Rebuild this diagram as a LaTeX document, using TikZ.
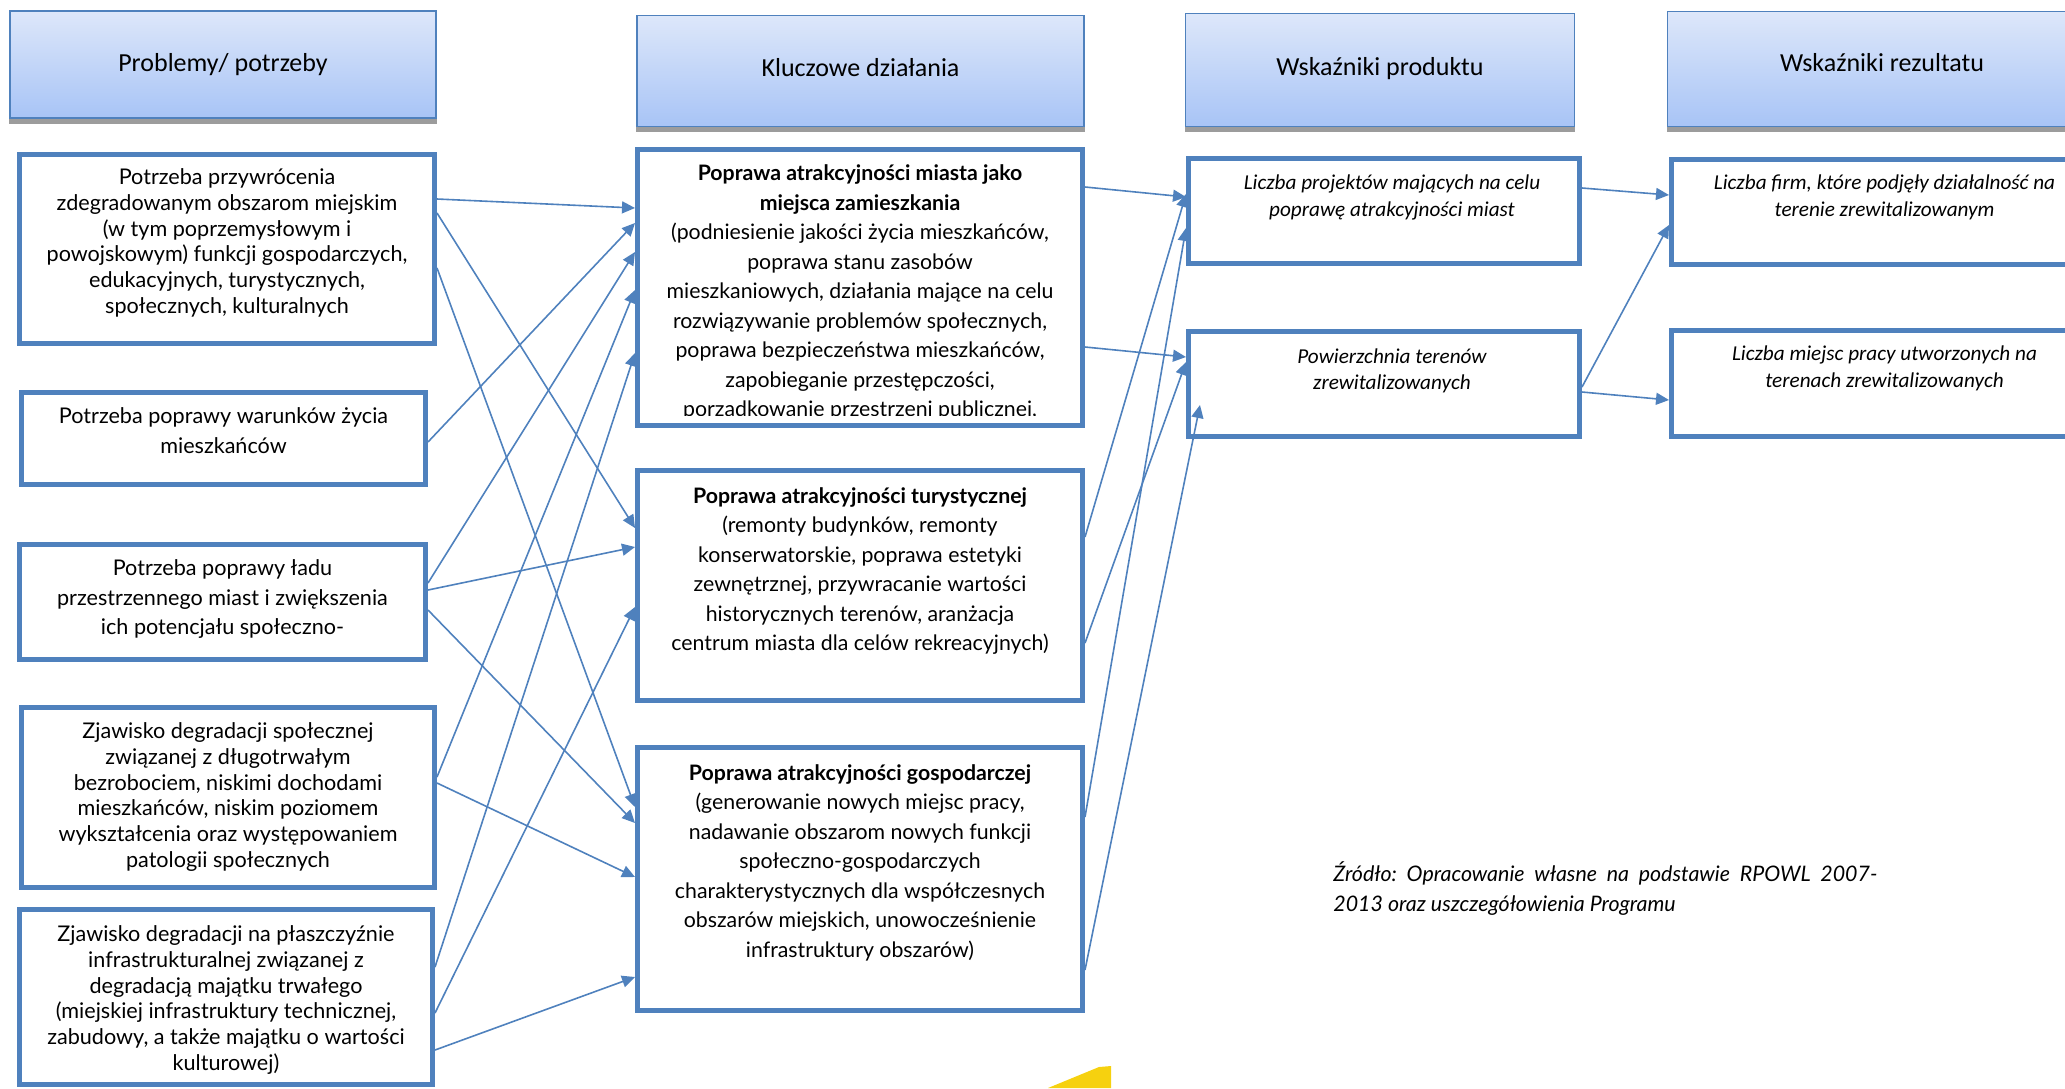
\documentclass[tikz,border=0pt]{standalone}
\usepackage{fontspec}
\setmainfont{Lato}
\newfontfamily\calib{Carlito}
\usetikzlibrary{calc,arrows.meta}
\definecolor{bord}{HTML}{4F81BD}
\definecolor{htop}{HTML}{DDE7FA}
\definecolor{hbot}{HTML}{A8C4F6}
\definecolor{shad}{HTML}{9C9C9C}
\definecolor{yel}{HTML}{F6D10F}
\begin{document}
\frenchspacing
\begin{tikzpicture}[x=0.5pt,y=-0.5pt,
  box/.style={draw=bord,line width=2.5pt,fill=white,inner sep=0pt},
  hdr/.style={draw=bord,line width=0.75pt,top color=htop,bottom color=hbot,inner sep=0pt},
  htxt/.style={inner sep=0pt,font=\calib\fontsize{13}{15}\selectfont},
  ltxt/.style={anchor=north,align=center,inner sep=0pt,font=\fontsize{10.8}{12.85}\selectfont},
  wtxt/.style={anchor=north,align=center,inner sep=0pt,font=\fontsize{10.65}{14.75}\selectfont},
  vtxt/.style={anchor=north,align=center,inner sep=0pt,font=\fontsize{10.8}{14.75}\selectfont},
  itxt/.style={anchor=north,align=center,inner sep=0pt,font=\calib\itshape\fontsize{10.6}{13.2}\selectfont},
  arr/.style={draw=bord,line width=0.8pt,-{Triangle[length=6.5pt,width=6pt]}},
  shd/.style={fill=shad}
]
\useasboundingbox (0,0) rectangle (2065,1088);
\clip (0,0) rectangle (2065,1088);

% headers
\node[hdr,minimum width=213pt,minimum height=53.5pt] (H1) at (223,64.5) {};
\node[hdr,minimum width=223.3pt,minimum height=55.3pt] (H2) at (860.5,71) {};
\node[hdr,minimum width=194.3pt,minimum height=56.3pt] (H3) at (1380,70) {};
\node[hdr,minimum width=214.3pt,minimum height=57.3pt] (H4) at (1882,69) {};
\foreach \h in {H1,H2,H3,H4}{
  \fill[shd] (\h.south west) rectangle ($(\h.south east)+(0,5)$);
}
\node[htxt] (tH1) at ($(H1.center)+(0,0)$) {Problemy/ potrzeby};
\node[htxt] (tH2) at ($(H2.center)+(0,-3)$) {Kluczowe działania};
\node[htxt] (tH3) at ($(H3.center)+(0,-1.5)$) {Wskaźniki produktu};
\node[htxt] (tH4) at ($(H4.center)+(0,-6)$) {Wskaźniki rezultatu};

% left column
\node[box,minimum width=207.5pt,minimum height=94.5pt] (L1) at (227,249) {};
\node[box,minimum width=202pt,minimum height=46pt] (L2) at (223.5,438.5) {};
\node[box,minimum width=203pt,minimum height=57.5pt] (L3) at (222.5,602) {};
\node[box,minimum width=206.5pt,minimum height=90pt] (L4) at (228,797.5) {};
\node[box,minimum width=206.5pt,minimum height=87.5pt] (L5) at (226,997) {};

\node[ltxt] (tL1) at ($(L1.north)+(0,16.5)$) {Potrzeba przywrócenia\\zdegradowanym obszarom miejskim\\(w tym poprzemysłowym i\\powojskowym) funkcji gospodarczych,\\edukacyjnych, turystycznych,\\społecznych, kulturalnych};
\node[vtxt] (tL2) at ($(L2.north)+(0,17.5)$) {Potrzeba poprawy warunków życia\\mieszkańców};
\node[vtxt] (tL3) at ($(L3.north)+(0,17.5)$) {Potrzeba poprawy ładu\\przestrzennego miast i zwiększenia\\ich potencjału społeczno-};
\node[ltxt] (tL4) at ($(L4.north)+(0,17.5)$) {Zjawisko degradacji społecznej\\związanej z długotrwałym\\bezrobociem, niskimi dochodami\\mieszkańców, niskim poziomem\\wykształcenia oraz występowaniem\\patologii społecznych};
\node[ltxt] (tL5) at ($(L5.north)+(0,18.5)$) {Zjawisko degradacji na płaszczyźnie\\infrastrukturalnej związanej z\\degradacją majątku trwałego\\(miejskiej infrastruktury technicznej,\\zabudowy, a także majątku o wartości\\kulturowej)};

% middle column
\node[box,minimum width=222.5pt,minimum height=138pt] (M1) at (860,287.5) {};
\node[box,minimum width=222.5pt,minimum height=115pt] (M2) at (860,585.5) {};
\node[box,minimum width=222.5pt,minimum height=131.5pt] (M3) at (860,879) {};

\begin{scope}
\clip ($(M1.north west)+(6,6)$) rectangle ($(M1.south east)+(-6,-13)$);
\node[wtxt] (tM1) at ($(M1.north)+(0,17.5)$) {\textbf{Poprawa atrakcyjności miasta jako}\\\textbf{miejsca zamieszkania}\\(podniesienie jakości życia mieszkańców,\\poprawa stanu zasobów\\mieszkaniowych, działania mające na celu\\rozwiązywanie problemów społecznych,\\poprawa bezpieczeństwa mieszkańców,\\zapobieganie przestępczości,\\porządkowanie przestrzeni publicznej,};
\end{scope}
\node[wtxt] (tM2) at ($(M2.north)+(0,19)$) {\textbf{Poprawa atrakcyjności turystycznej}\\(remonty budynków, remonty\\konserwatorskie, poprawa estetyki\\zewnętrznej, przywracanie wartości\\historycznych terenów, aranżacja\\centrum miasta dla celów rekreacyjnych)};
\node[wtxt] (tM3) at ($(M3.north)+(0,19)$) {\textbf{Poprawa atrakcyjności gospodarczej}\\(generowanie nowych miejsc pracy,\\nadawanie obszarom nowych funkcji\\społeczno-gospodarczych\\charakterystycznych dla współczesnych\\obszarów miejskich, unowocześnienie\\infrastruktury obszarów)};

% product and result columns
\node[box,minimum width=195.5pt,minimum height=52.5pt] (P1) at (1384,211) {};
\node[box,minimum width=195.5pt,minimum height=52.5pt] (P2) at (1384,384) {};
\node[box,minimum width=213pt,minimum height=52.5pt] (R1) at (1884.5,212) {};
\node[box,minimum width=213pt,minimum height=53pt] (R2) at (1884.5,383.5) {};
\node[itxt] (tP1) at ($(P1.north)+(8,18.5)$) {Liczba projektów mających na celu\\poprawę atrakcyjności miast};
\node[itxt] (tP2) at ($(P2.north)+(8,19)$) {Powierzchnia terenów\\zrewitalizowanych};
\node[itxt] (tR1) at ($(R1.north)+(0,17.5)$) {Liczba firm, które podjęły działalność na\\terenie zrewitalizowanym};
\node[itxt] (tR2) at ($(R2.north)+(0,17.5)$) {Liczba miejsc pracy utworzonych na\\terenach zrewitalizowanych};

% source note
\node[anchor=north west,inner sep=0pt,text width=272pt,align=justify,
  font=\itshape\fontsize{10.7}{15}\selectfont] (src) at (1333,861)
  {Źródło: Opracowanie własne na podstawie RPOWL 2007-\linebreak 2013 oraz uszczegółowienia Programu};

% yellow fragment
\fill[yel] (1048,1088) -- (1099,1067) -- (1111,1066) -- (1111,1088) -- cycle;

% arrows: problems -> actions
\draw[arr] ($(L1.north east)+(0,47)$)  -- ($(M1.north west)+(0,61)$);
\draw[arr] ($(L1.north east)+(0,61)$)  -- ($(M2.north west)+(0,60)$);
\draw[arr] ($(L1.north east)+(0,116)$) -- ($(M3.north west)+(0,62)$);
\draw[arr] ($(L2.north east)+(0,52)$)  -- ($(M1.north west)+(0,76)$);
\draw[arr] ($(L3.north east)+(0,41)$)  -- ($(M1.north west)+(0,105)$);
\draw[arr] ($(L3.north east)+(0,48)$)  -- ($(M2.north west)+(0,79)$);
\draw[arr] ($(L3.north east)+(0,68)$)  -- ($(M3.north west)+(0,78)$);
\draw[arr] ($(L4.north east)+(0,72)$)  -- ($(M1.north west)+(0,143)$);
\draw[arr] ($(L4.north east)+(0,78)$)  -- ($(M3.north west)+(0,132)$);
\draw[arr] ($(L5.north east)+(0,60)$)  -- ($(M1.north west)+(0,206)$);
\draw[arr] ($(L5.north east)+(0,106)$) -- ($(M2.north west)+(0,139)$);
\draw[arr] ($(L5.north east)+(0,143)$) -- ($(M3.north west)+(0,232)$);

% arrows: actions -> product indicators
\draw[arr] ($(M1.north east)+(0,40)$)  -- ($(P1.north west)+(0,41)$);
\draw[arr] ($(M1.north east)+(0,200)$) -- ($(P2.north west)+(0,28)$);
\draw[arr] ($(M2.north east)+(0,69)$)  -- ($(P1.north west)+(0,38)$);
\draw[arr] ($(M2.north east)+(0,175)$) -- ($(P2.north west)+(0,33)$);
\draw[arr] ($(M3.north east)+(0,72)$)  -- ($(P1.north west)+(0,72)$);
\draw[arr] ($(M3.north east)+(0,225)$) -- ($(P2.north west)+(14,76)$);

% arrows: product -> result indicators
\draw[arr] ($(P1.north east)+(0,32)$) -- ($(R1.north west)+(0,38)$);
\draw[arr] ($(P2.north east)+(0,58)$) -- ($(R1.north west)+(0,68)$);
\draw[arr] ($(P2.north east)+(0,63)$) -- ($(R2.north west)+(0,72)$);
\end{tikzpicture}
\end{document}
